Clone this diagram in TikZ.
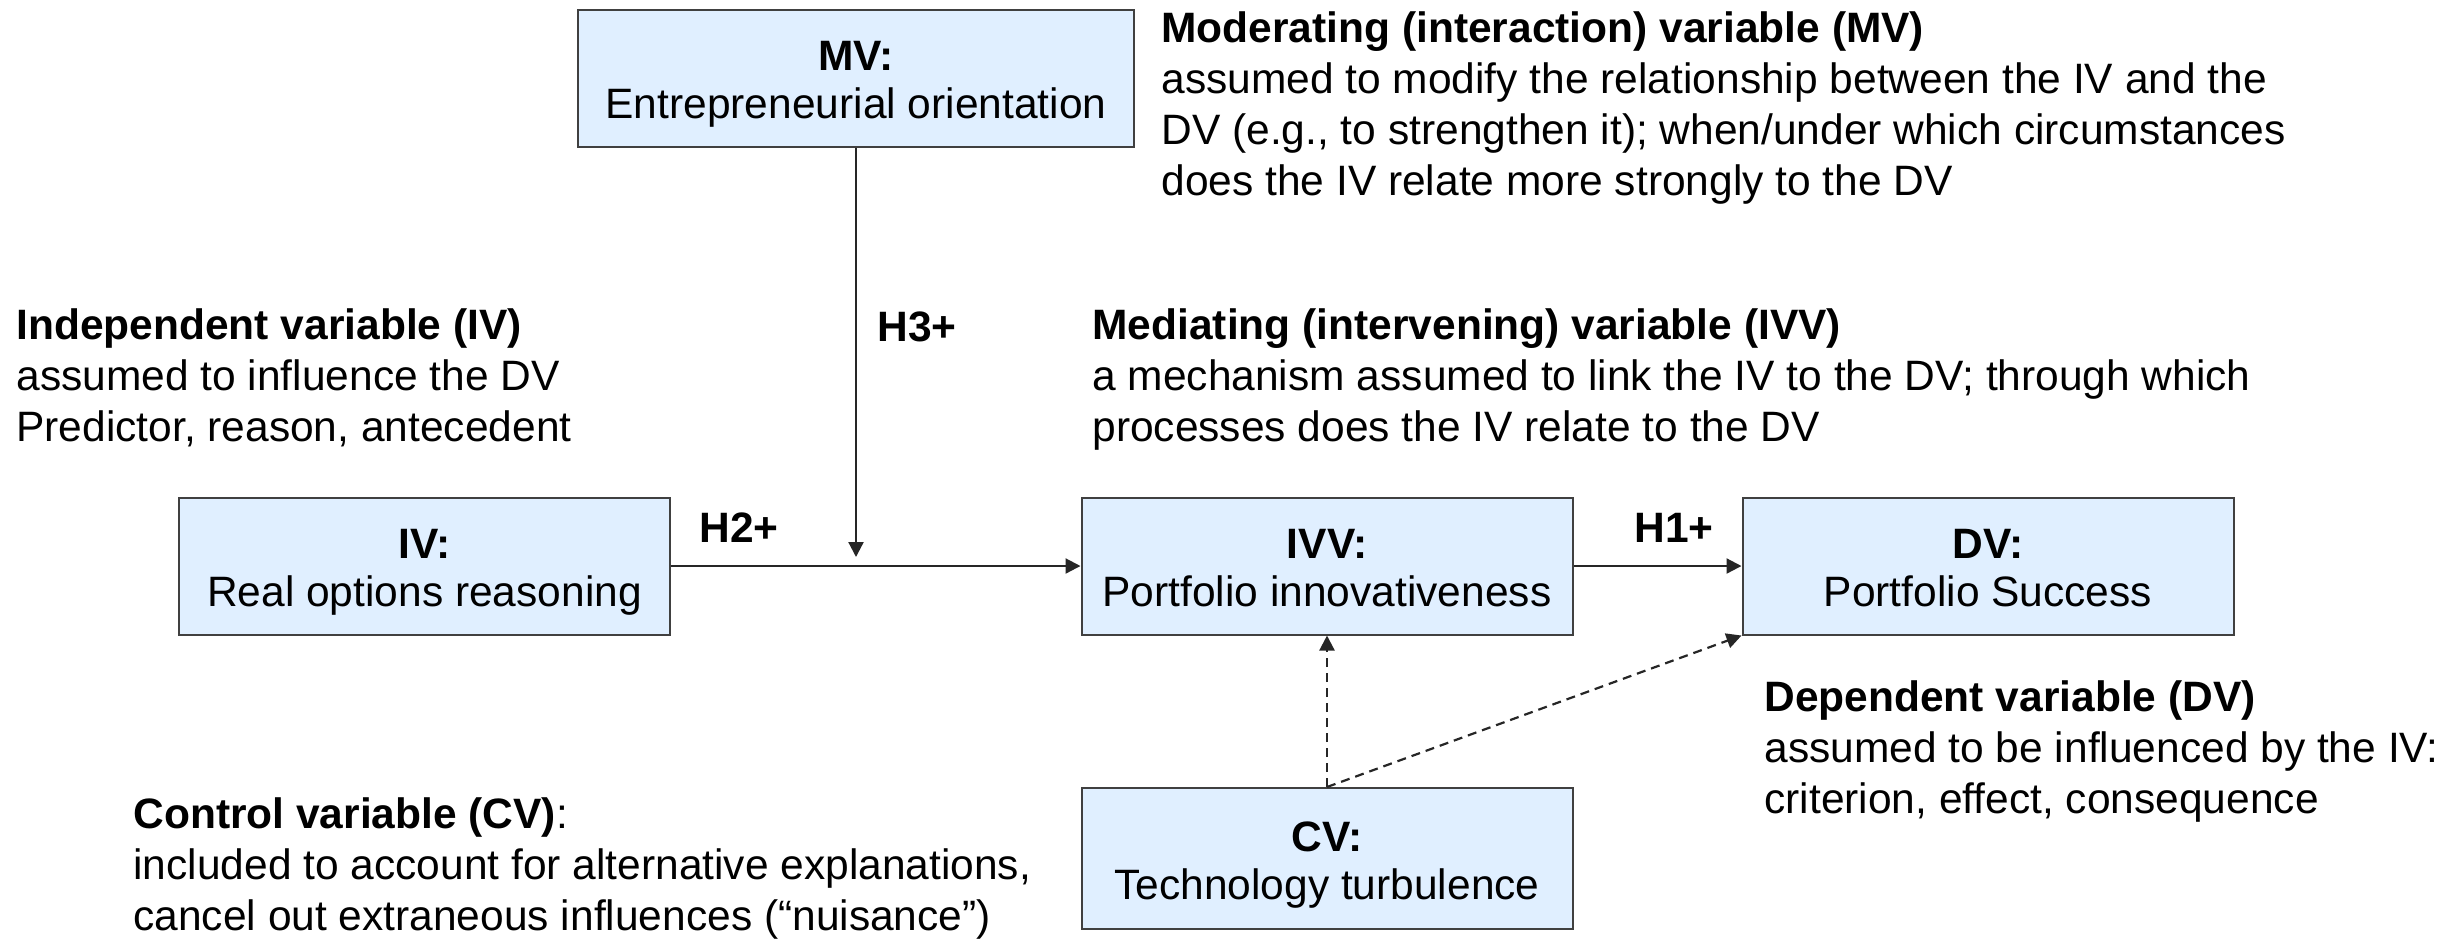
\documentclass[tikz,border=0pt]{standalone}
\usepackage{fontspec}
\setmainfont{Liberation Sans}
\usetikzlibrary{arrows.meta}
\definecolor{boxfill}{RGB}{224,239,255}
\definecolor{boxline}{RGB}{64,64,64}
\definecolor{arrowcol}{RGB}{38,38,38}
% two-line box label with fixed top height and bottom depth
\newcommand{\boxlabel}[2]{\rule{0pt}{22.5pt}\textbf{#1}\\#2\rule[-6pt]{0pt}{6pt}}
\tikzset{
  x=0.5pt, y=-0.5pt,
  every node/.style={font=\fontsize{21.25pt}{25.5pt}\selectfont, text=black},
  varbox/.style={draw=boxline, fill=boxfill, line width=1pt, inner sep=0pt,
    minimum width=245.5pt, minimum height=68.5pt, align=center,
    font=\fontsize{21.25pt}{24pt}\selectfont},
  % anchored at the baseline of the last line of the note
  note/.style={anchor=base west, align=left, inner sep=0pt},
  hyp/.style={anchor=base west, inner sep=0pt, font=\fontsize{21.25pt}{25.5pt}\selectfont\bfseries},
  arr/.style={draw=arrowcol, line width=1.1pt, -{Triangle[length=7.5pt,width=7.5pt]}},
  dasharr/.style={arr, dash pattern=on 4.5pt off 3pt},
}
\begin{document}
\begin{tikzpicture}
\useasboundingbox (0,0) rectangle (2456,939);

% variable boxes
\node[varbox, minimum width=278pt] (mv) at (856,78) {\boxlabel{MV:}{Entrepreneurial orientation}};
\node[varbox] (iv)  at (424.5,566) {\boxlabel{IV:}{Real options reasoning}};
\node[varbox] (ivv) at (1327,566) {\boxlabel{IVV:}{Portfolio innovativeness}};
\node[varbox] (dv)  at (1988,566) {\boxlabel{DV:}{Portfolio Success}};
\node[varbox, minimum height=70.5pt] (cv) at (1327,858.5) {\boxlabel{CV:}{Technology turbulence}};

% explanatory notes
\node[note] (mvnote) at (1161,195.5) {\textbf{Moderating (interaction) variable (MV)}\\assumed to modify the relationship between the IV and the\\DV (e.g., to strengthen it); when/under which circumstances\\does the IV relate more strongly to the DV};
\node[note] (ivnote) at (16,441.5) {\textbf{Independent variable (IV)}\\assumed to influence the DV\\Predictor, reason, antecedent};
\node[note] (ivvnote) at (1092,441.5) {\textbf{Mediating (intervening) variable (IVV)}\\a mechanism assumed to link the IV to the DV; through which\\processes does the IV relate to the DV};
\node[note] (dvnote) at (1764,813.5) {\textbf{Dependent variable (DV)}\\assumed to be influenced by the IV:\\criterion, effect, consequence};
\node[note] (cvnote) at (133,930.5) {\textbf{Control variable (CV)}:\\included to account for alternative explanations,\\cancel out extraneous influences (“nuisance”)};

% hypothesis labels
\node[hyp] (h1) at (1634,542) {H1+};
\node[hyp] (h2) at (699,542) {H2+};
\node[hyp] (h3) at (877,341) {H3+};

% connectors
\coordinate (modend) at (856,557);
\draw[arr] (iv.east) -- (ivv.west);
\draw[arr] (ivv.east) -- (dv.west);
\draw[arr] (mv.south) -- (modend);
\draw[dasharr] (cv.north) -- (ivv.south);
\draw[dasharr] (cv.north) -- (dv.south west);
\end{tikzpicture}
\end{document}
